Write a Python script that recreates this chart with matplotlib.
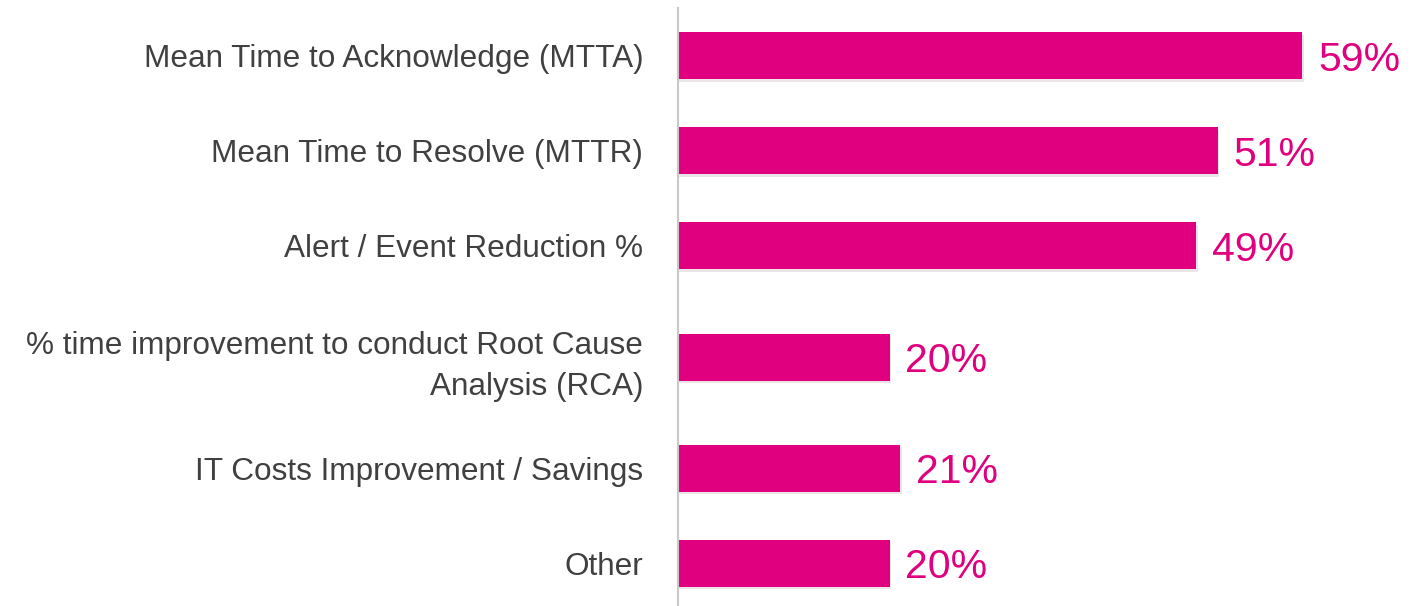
import matplotlib.pyplot as plt
import matplotlib.patheffects as pe

categories = [
    "Mean Time to Acknowledge (MTTA)",
    "Mean Time to Resolve (MTTR)",
    "Alert / Event Reduction %",
    "% time improvement to conduct Root Cause\nAnalysis (RCA)",
    "IT Costs Improvement / Savings",
    "Other",
]
values = [59, 51, 49, 20, 21, 20]

# row slots (the two-line row gets a bit more room, as in the original)
slots = [0, 1, 2, 3.17, 4.34, 5.34]

bar_color = "#E0007F"
text_color = "#404040"

plt.rcParams["font.family"] = ["Liberation Sans", "DejaVu Sans"]

fig = plt.figure(figsize=(14.15, 6.06), dpi=100)
ax = fig.add_axes([678 / 1415, 0, 1 - 678 / 1415, 1 - 8 / 606])

bars = ax.barh(slots, values, height=0.495, color=bar_color, zorder=2)
for b in bars:
    b.set_path_effects([pe.SimplePatchShadow(offset=(1, -1.5), alpha=0.1), pe.Normal()])

for y, v in zip(slots, values):
    ax.text(v + 1.5, y, f"{v}%", va="center_baseline", ha="left", fontsize=29.5,
            color=bar_color)

ax.set_xlim(0, 737 / 10.58)
ax.set_ylim(5.79, -0.505)
ax.set_yticks(slots)
ax.set_yticklabels(categories, fontsize=22.7, color=text_color, linespacing=1.5)
ax.tick_params(axis="y", length=0, pad=25)
ax.set_xticks([])

for side in ["top", "right", "bottom"]:
    ax.spines[side].set_visible(False)
ax.spines["left"].set_color("#c8c8c8")
ax.spines["left"].set_linewidth(1.5)

fig.savefig("out.png", dpi=100)
